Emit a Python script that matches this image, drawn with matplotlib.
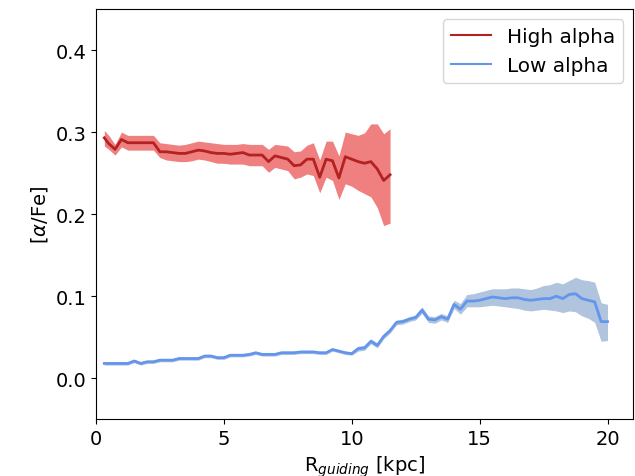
import numpy as np
import matplotlib
matplotlib.use("Agg")
import matplotlib.pyplot as plt
from matplotlib.lines import Line2D

# guiding radius grid (kpc); first bin centre sits a bit above 0.25
r_high = np.r_[0.33, np.arange(0.5, 11.51, 0.25)]
r_low = np.r_[0.33, np.arange(0.5, 20.01, 0.25)]

# high alpha: median [alpha/Fe] and spread
high_med = [0.293, 0.286, 0.279, 0.291, 0.287, 0.287, 0.287, 0.287, 0.287, 0.276,
            0.276, 0.275, 0.274, 0.274, 0.276, 0.278, 0.277, 0.275, 0.274, 0.274,
            0.273, 0.274, 0.275, 0.272, 0.272, 0.272, 0.264, 0.271, 0.269, 0.267,
            0.259, 0.260, 0.267, 0.267, 0.245, 0.267, 0.265, 0.244, 0.270, 0.267,
            0.264, 0.262, 0.264, 0.255, 0.241, 0.248]
high_up = [0.302, 0.296, 0.285, 0.300, 0.296, 0.296, 0.296, 0.296, 0.296, 0.287,
           0.286, 0.285, 0.284, 0.285, 0.287, 0.289, 0.288, 0.287, 0.286, 0.285,
           0.285, 0.285, 0.286, 0.285, 0.285, 0.285, 0.279, 0.285, 0.284, 0.283,
           0.276, 0.277, 0.284, 0.287, 0.266, 0.289, 0.289, 0.271, 0.300, 0.298,
           0.296, 0.299, 0.310, 0.310, 0.298, 0.304]
high_lo = [0.283, 0.279, 0.272, 0.282, 0.278, 0.278, 0.278, 0.278, 0.278, 0.269,
           0.266, 0.265, 0.264, 0.264, 0.265, 0.267, 0.266, 0.264, 0.262, 0.262,
           0.261, 0.261, 0.261, 0.259, 0.259, 0.259, 0.251, 0.257, 0.255, 0.253,
           0.243, 0.245, 0.249, 0.247, 0.226, 0.245, 0.241, 0.218, 0.237, 0.234,
           0.229, 0.225, 0.221, 0.208, 0.186, 0.189]

# low alpha
low_med = [0.018, 0.018, 0.018, 0.018, 0.018, 0.021, 0.018, 0.020, 0.020, 0.022,
           0.022, 0.022, 0.024, 0.024, 0.024, 0.024, 0.027, 0.027, 0.025, 0.025,
           0.028, 0.028, 0.028, 0.029, 0.031, 0.029, 0.029, 0.029, 0.031, 0.031,
           0.031, 0.032, 0.032, 0.032, 0.031, 0.031, 0.035, 0.033, 0.031, 0.030,
           0.036, 0.037, 0.045, 0.040, 0.051, 0.058, 0.068, 0.069, 0.072, 0.074,
           0.083, 0.072, 0.071, 0.075, 0.072, 0.090, 0.084, 0.094, 0.094, 0.095,
           0.097, 0.099, 0.098, 0.097, 0.098, 0.098, 0.096, 0.095, 0.096, 0.097,
           0.097, 0.100, 0.097, 0.102, 0.103, 0.097, 0.095, 0.093, 0.069, 0.069]
low_up = [0.020, 0.020, 0.020, 0.020, 0.020, 0.023, 0.020, 0.022, 0.022, 0.024,
          0.024, 0.024, 0.026, 0.026, 0.026, 0.026, 0.029, 0.029, 0.027, 0.027,
          0.030, 0.030, 0.030, 0.031, 0.033, 0.031, 0.031, 0.031, 0.033, 0.033,
          0.033, 0.034, 0.034, 0.034, 0.033, 0.033, 0.037, 0.035, 0.033, 0.032,
          0.039, 0.040, 0.048, 0.043, 0.054, 0.061, 0.071, 0.072, 0.075, 0.077,
          0.087, 0.076, 0.075, 0.079, 0.076, 0.095, 0.091, 0.102, 0.103, 0.105,
          0.107, 0.109, 0.109, 0.109, 0.110, 0.110, 0.109, 0.108, 0.110, 0.113,
          0.114, 0.117, 0.115, 0.119, 0.123, 0.120, 0.119, 0.117, 0.092, 0.090]
low_lo = [0.016, 0.016, 0.016, 0.016, 0.016, 0.019, 0.016, 0.018, 0.018, 0.020,
          0.020, 0.020, 0.022, 0.022, 0.022, 0.022, 0.025, 0.025, 0.023, 0.023,
          0.026, 0.026, 0.026, 0.027, 0.029, 0.027, 0.027, 0.027, 0.029, 0.029,
          0.029, 0.030, 0.030, 0.030, 0.029, 0.029, 0.033, 0.031, 0.029, 0.028,
          0.033, 0.034, 0.042, 0.037, 0.048, 0.055, 0.065, 0.066, 0.069, 0.071,
          0.079, 0.068, 0.067, 0.071, 0.068, 0.085, 0.078, 0.087, 0.087, 0.087,
          0.088, 0.089, 0.088, 0.087, 0.086, 0.085, 0.083, 0.082, 0.083, 0.084,
          0.083, 0.082, 0.080, 0.082, 0.081, 0.076, 0.073, 0.068, 0.045, 0.046]

plt.rcParams['font.size'] = 14

fig, ax = plt.subplots(figsize=(6.35, 4.77), dpi=100)
ax.fill_between(r_high, high_lo, high_up, color='lightcoral', lw=0)
ax.plot(r_high, high_med, color='firebrick', lw=2)
ax.fill_between(r_low, low_lo, low_up, color='lightsteelblue', lw=0)
ax.plot(r_low, low_med, color='cornflowerblue', lw=2)

ax.set_xlim(0, 21)
ax.set_ylim(-0.05, 0.45)
ax.set_xticks([0, 5, 10, 15, 20])
ax.set_yticks([0.0, 0.1, 0.2, 0.3, 0.4])
ax.set_xlabel(r'R$_{guiding}$ [kpc]')
ax.set_ylabel(r'[$\alpha$/Fe]')

handles = [Line2D([], [], color='firebrick', lw=1.5),
           Line2D([], [], color='cornflowerblue', lw=1.5)]
ax.legend(handles, ['High alpha', 'Low alpha'], loc='upper right', fontsize=14.4)

fig.subplots_adjust(left=0.151, right=0.997, top=0.979, bottom=0.119)
fig.savefig('out.png')
